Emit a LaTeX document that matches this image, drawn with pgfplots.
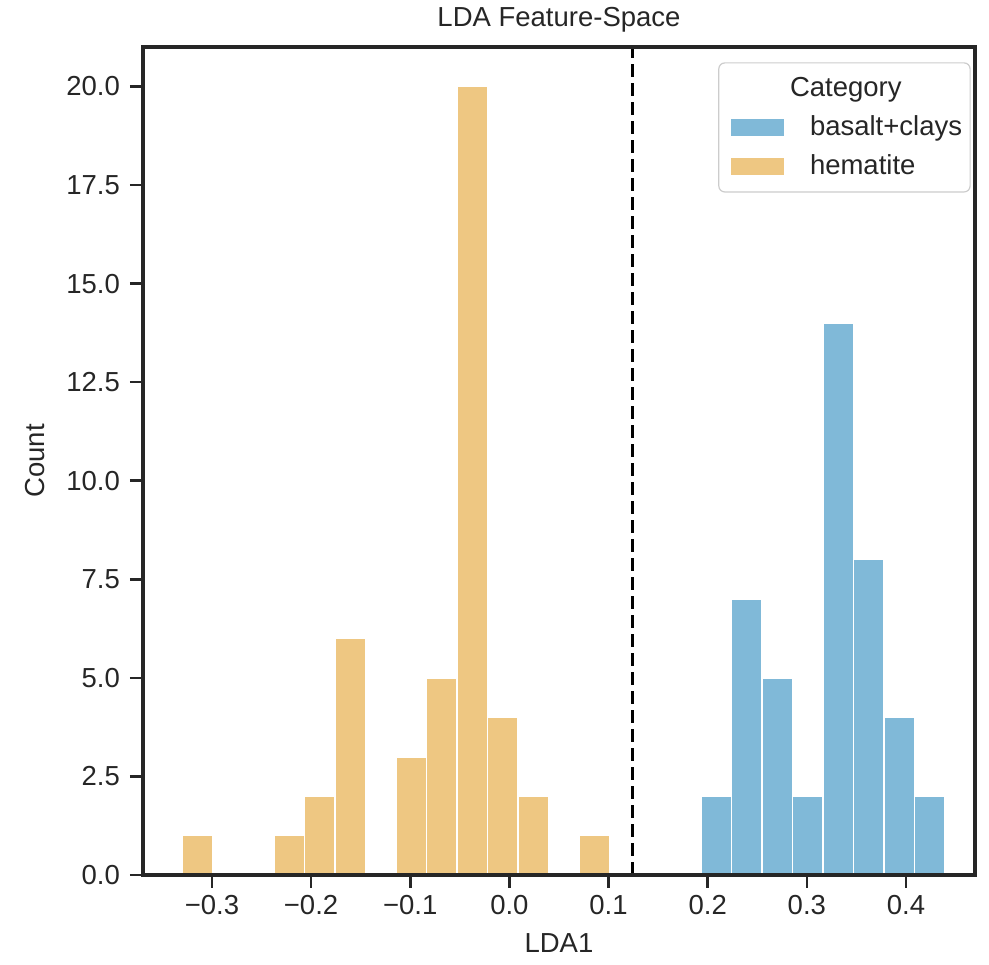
\documentclass[border=0pt]{standalone}
\usepackage{pgfplots}
\pgfplotsset{compat=1.18}
\usepackage{fontspec}
\setmainfont{Liberation Sans}
\definecolor{cblue}{RGB}{128,185,216}
\definecolor{corange}{RGB}{238,199,130}
\definecolor{spine}{RGB}{38,38,38}
\definecolor{legedge}{RGB}{204,204,204}
\begin{document}
\begin{tikzpicture}
\begin{axis}[
  scale only axis,
  width=416pt, height=414pt,
  xmin=-0.3695, xmax=0.4696,
  ymin=0, ymax=21,
  axis on top,
  font=\fontsize{13.75}{16}\selectfont,
  axis line style={spine, line width=1.6pt},
  tick style={spine, line width=1.3pt},
  tick align=outside,
  major tick length=6.5pt,
  xtick pos=bottom, ytick pos=left,
  xtick={-0.3,-0.2,-0.1,0,0.1,0.2,0.3,0.4},
  xticklabels={−0.3,−0.2,−0.1,0.0,0.1,0.2,0.3,0.4},
  ytick={0,2.5,5,7.5,10,12.5,15,17.5,20},
  yticklabels={0.0,2.5,5.0,7.5,10.0,12.5,15.0,17.5,20.0},
  ticklabel style={text=spine},
  yticklabel style={xshift=-1.5pt},
  title={LDA Feature-Space},
  title style={at={(axis description cs:0.5,1)}, anchor=south, yshift=-2pt, text=spine},
  xlabel={LDA1},
  ylabel={Count},
  xlabel style={at={(axis description cs:0.5,-0.0821)}, anchor=center, text=spine},
  ylabel style={at={(axis description cs:-0.1298,0.5)}, anchor=center, text=spine},
  legend style={at={(axis description cs:1,1)}, anchor=north east, xshift=-2.15pt, yshift=-7.65pt,
    draw=legedge, line width=0.6pt, rounded corners=3pt, fill=white, text=spine,
    inner xsep=2pt, inner ysep=5pt, row sep=4.25pt, cells={anchor=west}},
  legend image code/.code={\fill[#1, draw=none, sharp corners] (4pt,-4.25pt) rectangle (30.5pt,4.25pt); \path (0pt,0pt) (41pt,0pt);},
]
\addlegendimage{empty legend}
\addlegendentry{\hspace*{-10pt}Category}
\addlegendimage{fill=cblue}
\addlegendentry{basalt+clays}
\addlegendimage{fill=corange}
\addlegendentry{hematite}

\addplot[ybar interval, fill=corange, draw=white, line width=0.8pt, forget plot] coordinates {
(-0.3296,1) (-0.2988,0) (-0.2681,0) (-0.2373,1) (-0.2066,2) (-0.1758,6) (-0.1450,0)
(-0.1143,3) (-0.0835,5) (-0.0528,20) (-0.0220,4) (0.0088,2) (0.0395,0) (0.0703,1) (0.1010,0)
};
\addplot[ybar interval, fill=cblue, draw=white, line width=0.8pt, forget plot] coordinates {
(0.1933,2) (0.2241,7) (0.2548,5) (0.2856,2) (0.3164,14) (0.3471,8) (0.3779,4) (0.4086,2) (0.4394,0)
};
\addplot[black, line width=1.5pt, dash pattern=on 6.5pt off 3pt, forget plot] coordinates {(0.1244,0) (0.1244,21)};
\end{axis}
\pgfresetboundingbox
\path (current axis.south west) ++(-71.5pt,-45pt) coordinate (bbsw);
\path (current axis.north east) ++(7pt,23.5pt) coordinate (bbne);
\useasboundingbox (bbsw) rectangle (bbne);
\end{tikzpicture}
\end{document}
